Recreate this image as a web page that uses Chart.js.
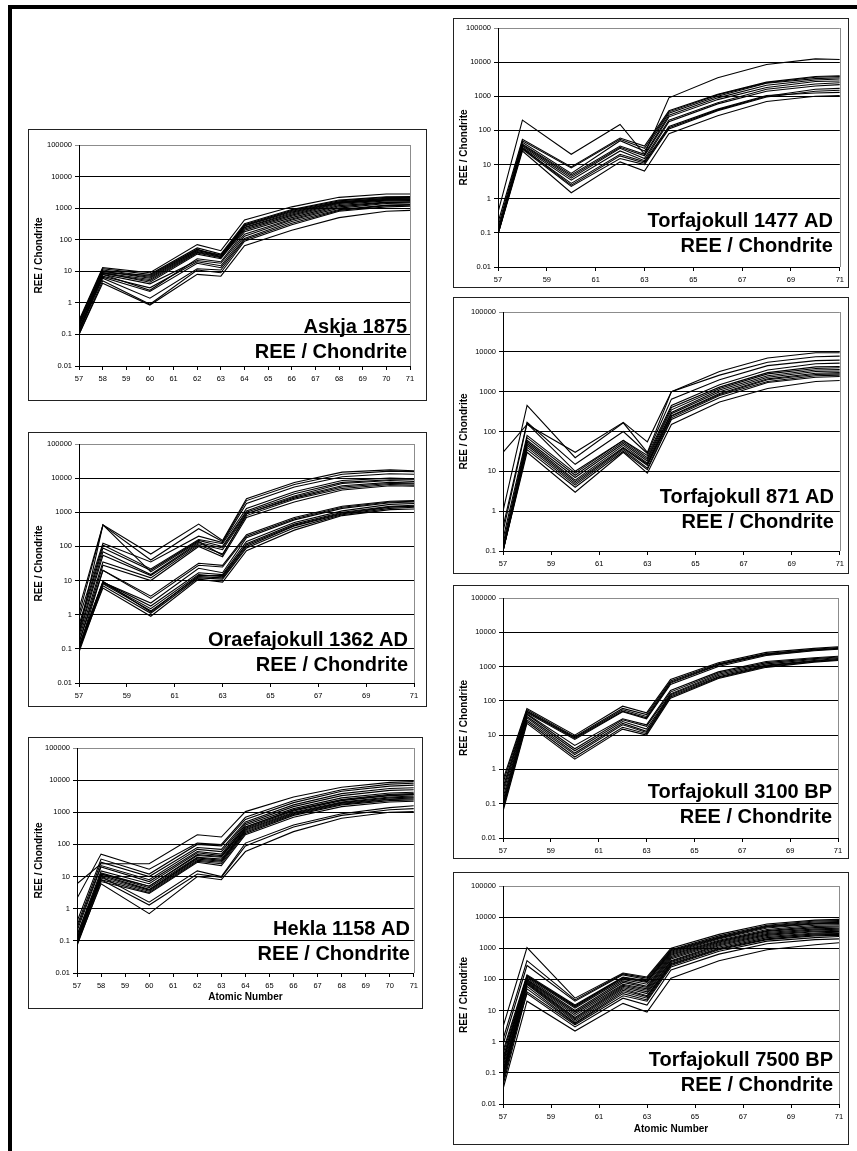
<!DOCTYPE html>
<html>
<head>
<meta charset="utf-8">
<script src="https://cdn.jsdelivr.net/npm/chart.js@4"></script>
<style>
  html, body { margin: 0; padding: 0; background: #fff; overflow: hidden; }
  body { width: 857px; height: 1151px; position: relative; }
  .frame { position: absolute; left: 8px; top: 5px; width: 870px; height: 1170px; border: 4px solid #000; box-sizing: border-box; }
  .box { position: absolute; border: 1px solid #222; box-sizing: border-box; background: #fff; }
  canvas { position: absolute; }
</style>
</head>
<body>
<div class="frame"></div>

<script>
// REE elements sampled (atomic number): La Ce Nd Sm Eu Gd Dy Er Yb Lu
const atomicNumbers = [57, 58, 60, 62, 63, 64, 66, 68, 70, 71];
const decades = [0.01, 0.1, 1, 10, 100, 1000, 10000, 100000];

const askjaSeries = [
  [0.1, 4.2, 0.85, 8, 7, 65, 200, 500, 800, 850],
  [0.1, 5, 0.9, 11, 9, 90, 300, 800, 1100, 1150],
  [0.12, 6, 1.4, 12, 11, 100, 330, 850, 1200, 1250],
  [0.15, 6.5, 2.3, 18, 13, 110, 380, 900, 1250, 1300],
  [0.15, 7, 3, 20, 15, 130, 420, 1000, 1400, 1450],
  [0.2, 8, 4, 22, 18, 150, 450, 1100, 1500, 1550],
  [0.12, 8, 2.5, 25, 20, 180, 500, 1200, 1550, 1600],
  [0.12, 9, 4.5, 35, 25, 200, 550, 1300, 1700, 1750],
  [0.15, 8.5, 5, 38, 27, 220, 600, 1400, 1800, 1850],
  [0.2, 9, 5.5, 40, 28, 240, 650, 1450, 1850, 1900],
  [0.18, 10, 6, 42, 30, 250, 700, 1500, 1900, 1950],
  [0.22, 10, 6.5, 45, 32, 270, 750, 1550, 2000, 2050],
  [0.25, 11, 7, 48, 33, 280, 800, 1600, 2050, 2100],
  [0.2, 9, 7.5, 50, 28, 300, 850, 1700, 2200, 2200],
  [0.25, 12, 8, 55, 35, 320, 900, 1800, 2300, 2350],
  [0.28, 13, 9, 70, 45, 420, 1100, 2200, 2800, 2800]
];

const oraefajokullSeries = [
  [1.5, 430, 60, 450, 150, 2500, 7500, 15000, 17500, 16500],
  [1.0, 420, 40, 330, 140, 2200, 6500, 13000, 16000, 15500],
  [0.8, 125, 35, 200, 130, 1800, 5500, 11000, 13500, 13000],
  [0.5, 110, 22, 160, 120, 1300, 4000, 8500, 10000, 9500],
  [0.4, 90, 20, 150, 100, 1100, 3500, 7500, 9000, 9000],
  [0.3, 70, 15, 130, 90, 1000, 3000, 7000, 8500, 8000],
  [0.25, 55, 14, 120, 80, 900, 2800, 6000, 7500, 7200],
  [0.3, 430, 18, 140, 55, 900, 2600, 5500, 7000, 6800],
  [0.2, 35, 12, 110, 60, 800, 2400, 5000, 6500, 6200],
  [0.15, 28, 10, 100, 50, 700, 2000, 4500, 6000, 5800],
  [0.1, 20, 3.5, 32, 28, 220, 700, 1500, 2100, 2200],
  [0.15, 20, 3, 28, 25, 200, 650, 1400, 2000, 2100],
  [0.12, 9, 2.2, 23, 17, 180, 600, 1300, 1900, 2000],
  [0.1, 9, 1.8, 17, 15, 140, 500, 1100, 1700, 1800],
  [0.09, 8.5, 1.5, 15, 13, 120, 450, 1000, 1500, 1600],
  [0.12, 9.5, 1.2, 14, 14, 110, 420, 950, 1450, 1500],
  [0.1, 8, 1.3, 13, 12, 100, 400, 900, 1400, 1500],
  [0.08, 7, 1.1, 12, 11, 90, 350, 850, 1300, 1400],
  [0.1, 6, 0.9, 11, 9, 75, 300, 800, 1200, 1250]
];

const heklaSeries = [
  [6, 25, 25, 200, 170, 1050, 3000, 6000, 8500, 9000],
  [2.1, 50, 17, 110, 100, 700, 2300, 5000, 7500, 8000],
  [0.4, 35, 12, 100, 90, 600, 2000, 4500, 6500, 7000],
  [0.3, 28, 10, 80, 70, 500, 1700, 3800, 5500, 5800],
  [0.25, 22, 8, 70, 60, 450, 1500, 3300, 4800, 5000],
  [0.2, 20, 7, 60, 50, 400, 1300, 2800, 4000, 4200],
  [0.15, 15, 6, 55, 45, 350, 1200, 2500, 3600, 3800],
  [0.15, 12, 5, 48, 42, 350, 1150, 2400, 3400, 3600],
  [0.12, 13, 5, 45, 40, 320, 1100, 2300, 3300, 3500],
  [0.1, 12, 4.5, 40, 35, 300, 1000, 2100, 3000, 3200],
  [0.1, 11, 4, 38, 32, 280, 950, 2000, 2800, 3000],
  [0.09, 10, 3.8, 35, 30, 260, 900, 1900, 2600, 2800],
  [0.08, 9, 3.5, 32, 28, 240, 850, 1800, 2500, 2600],
  [0.1, 8, 3.2, 30, 25, 220, 800, 1700, 2300, 2400],
  [0.07, 7, 3, 28, 22, 200, 700, 1500, 2100, 2200],
  [0.12, 10, 1.6, 15, 10, 110, 400, 900, 1400, 1600],
  [0.1, 8, 1.3, 12, 9.5, 90, 350, 800, 1200, 1300],
  [0.08, 6, 0.7, 10, 8, 60, 250, 650, 1000, 1050]
];

const torfa1477Series = [
  [0.4, 200, 20, 150, 20, 900, 3500, 8500, 12500, 12000],
  [0.2, 55, 8.5, 60, 35, 380, 1150, 2600, 3800, 4000],
  [0.15, 50, 8, 55, 30, 350, 1100, 2500, 3600, 3800],
  [0.12, 45, 5.5, 50, 25, 320, 1000, 2400, 3300, 3500],
  [0.1, 40, 5, 35, 20, 280, 900, 2100, 3000, 3200],
  [0.1, 38, 4.5, 32, 18, 250, 800, 1800, 2700, 2800],
  [0.09, 35, 4, 30, 15, 200, 650, 1600, 2300, 2500],
  [0.1, 32, 3.5, 25, 13, 180, 600, 1400, 2000, 2200],
  [0.12, 30, 2.8, 20, 12, 130, 420, 1050, 1250, 1300],
  [0.09, 30, 2.5, 18, 11, 120, 400, 1000, 1600, 1700],
  [0.1, 28, 2.3, 15, 10, 110, 380, 950, 1400, 1500],
  [0.09, 25, 1.5, 12, 6.5, 80, 270, 700, 1000, 1050]
];

const torfa871Series = [
  [30, 150, 30, 170, 55, 1000, 3200, 7000, 9500, 9500],
  [1, 450, 22, 165, 30, 1000, 2600, 5500, 7500, 7800],
  [0.4, 170, 15, 100, 28, 650, 2000, 4500, 6000, 6200],
  [0.3, 160, 10, 60, 25, 450, 1500, 3500, 5000, 5200],
  [0.2, 80, 9, 60, 22, 400, 1300, 3000, 4200, 4300],
  [0.15, 70, 8, 55, 20, 350, 1200, 2800, 3800, 4000],
  [0.12, 60, 7, 50, 18, 300, 1100, 2500, 3500, 3600],
  [0.1, 55, 6, 45, 16, 280, 1000, 2300, 3200, 3300],
  [0.12, 50, 5.5, 40, 15, 250, 900, 2100, 2900, 3000],
  [0.1, 45, 5, 38, 14, 240, 850, 2000, 2700, 2800],
  [0.1, 40, 4.5, 35, 12, 220, 800, 1800, 2500, 2600],
  [0.1, 35, 4, 32, 11, 200, 700, 1700, 2300, 2400],
  [0.1, 30, 3, 30, 9, 150, 550, 1200, 1800, 1900]
];

const torfa3100Series = [
  [0.5, 60, 10, 70, 45, 420, 1300, 2600, 3400, 3800],
  [0.4, 55, 9, 60, 40, 380, 1200, 2400, 3200, 3600],
  [0.3, 50, 8.5, 55, 35, 350, 1150, 2300, 3100, 3400],
  [0.25, 48, 8, 50, 32, 330, 1100, 2200, 3000, 3300],
  [0.2, 45, 7.5, 48, 30, 300, 1000, 2100, 2900, 3200],
  [0.15, 42, 5, 30, 20, 200, 700, 1400, 1800, 2000],
  [0.12, 40, 4, 28, 18, 180, 650, 1300, 1700, 1900],
  [0.1, 35, 3.5, 25, 15, 160, 600, 1200, 1600, 1800],
  [0.09, 32, 3, 22, 13, 150, 550, 1100, 1500, 1700],
  [0.08, 28, 2.7, 20, 12, 140, 500, 1050, 1450, 1600],
  [0.07, 25, 2.3, 17, 11, 130, 470, 1000, 1400, 1550],
  [0.06, 22, 2, 15, 10, 120, 450, 950, 1350, 1500]
];

const torfa7500Series = [
  [3, 1050, 25, 160, 120, 1000, 2800, 6000, 8000, 8500],
  [1.2, 400, 22, 150, 110, 900, 2500, 5500, 7500, 7800],
  [0.8, 280, 20, 140, 100, 850, 2300, 5200, 7000, 7200],
  [0.5, 140, 15, 120, 90, 800, 2200, 5000, 6500, 6800],
  [0.2, 130, 14, 115, 85, 750, 2100, 4800, 6200, 6500],
  [0.4, 130, 13, 110, 80, 700, 2000, 4500, 6000, 6200],
  [0.3, 120, 12, 100, 70, 650, 1800, 4000, 5500, 5700],
  [0.25, 110, 10, 90, 60, 600, 1700, 3700, 5000, 5200],
  [0.2, 100, 9, 80, 55, 550, 1600, 3500, 4600, 4800],
  [0.15, 95, 8, 70, 50, 500, 1500, 3200, 4200, 4400],
  [0.12, 90, 7, 65, 45, 450, 1400, 3000, 3900, 4100],
  [0.1, 85, 6, 60, 40, 400, 1300, 2800, 3600, 3800],
  [0.1, 80, 5.5, 55, 35, 380, 1200, 2600, 3400, 3500],
  [0.08, 75, 5, 50, 30, 350, 1100, 2400, 3100, 3300],
  [0.07, 70, 4.5, 45, 28, 320, 1000, 2200, 2900, 3000],
  [0.06, 60, 4, 40, 25, 300, 950, 2000, 2700, 2800],
  [0.05, 50, 3.8, 35, 22, 280, 900, 1900, 2500, 2600],
  [0.04, 40, 3.5, 30, 20, 250, 800, 1700, 2200, 2400],
  [0.1, 35, 3, 25, 15, 200, 650, 1400, 1900, 2000],
  [0.03, 20, 2.2, 17, 9, 110, 400, 900, 1300, 1500]
];

// box = outer chart border, plot = plot area (left, top, right, bottom) in page px
const panels = [
  { title: 'Askja 1875', series: askjaSeries, yMin: 0.01, xStep: 1, xTitle: false,
    box: [28, 129, 427, 401], plot: [79, 145, 410, 366], textRight: 3, textGap: 8 },
  { title: 'Oraefajokull 1362 AD', series: oraefajokullSeries, yMin: 0.01, xStep: 2, xTitle: false,
    box: [28, 432, 427, 707], plot: [79, 444, 414, 683], textRight: 6, textGap: 12 },
  { title: 'Hekla 1158 AD', series: heklaSeries, yMin: 0.01, xStep: 1, xTitle: true, xTitlePad: 5,
    box: [28, 737, 423, 1009], plot: [77, 748, 416, 973], textRight: 4, textGap: 13 },
  { title: 'Torfajokull 1477 AD', series: torfa1477Series, yMin: 0.01, xStep: 2, xTitle: false,
    box: [453, 18, 849, 288], plot: [498, 28, 840, 267], textRight: 7, textGap: 15 },
  { title: 'Torfajokull 871 AD', series: torfa871Series, yMin: 0.1, xStep: 2, xTitle: false,
    box: [453, 297, 849, 574], plot: [503, 312, 840, 551], textRight: 6, textGap: 23 },
  { title: 'Torfajokull 3100 BP', series: torfa3100Series, yMin: 0.01, xStep: 2, xTitle: false,
    box: [453, 585, 849, 859], plot: [503, 598, 838, 838], textRight: 6, textGap: 15 },
  { title: 'Torfajokull 7500 BP', series: torfa7500Series, yMin: 0.01, xStep: 2, xTitle: true, xTitlePad: 9,
    box: [453, 872, 849, 1145], plot: [503, 886, 839, 1104], textRight: 6, textGap: 13 }
];

const FONT = '"Liberation Sans", Arial, Helvetica, sans-serif';

// big two-line caption in the lower right of the plot + gray plot-area right edge
const captionPlugin = {
  id: 'caption',
  beforeDatasetsDraw(chart) {
    const { ctx, chartArea } = chart;
    ctx.save();
    ctx.strokeStyle = '#8c8c8c';
    ctx.lineWidth = 1;
    ctx.beginPath();
    ctx.moveTo(Math.round(chartArea.right) + 0.5, chartArea.top);
    ctx.lineTo(Math.round(chartArea.right) + 0.5, chartArea.bottom);
    ctx.stroke();
    ctx.restore();
  },
  afterDatasetsDraw(chart, args, opts) {
    const { ctx, chartArea } = chart;
    ctx.save();
    ctx.fillStyle = '#000';
    ctx.font = 'bold 20px ' + FONT;
    ctx.textAlign = 'right';
    ctx.textBaseline = 'alphabetic';
    const x = chartArea.right - opts.right;
    const y2 = chartArea.bottom - opts.gap;
    ctx.fillText(opts.title, x, y2 - 25);
    ctx.fillText('REE / Chondrite', x, y2);
    ctx.restore();
  }
};

panels.forEach((p, idx) => {
  const [bl, bt, br, bb] = p.box;
  const [pl, pt, pr, pb] = p.plot;

  const box = document.createElement('div');
  box.className = 'box';
  box.style.left = bl + 'px';
  box.style.top = bt + 'px';
  box.style.width = (br - bl) + 'px';
  box.style.height = (bb - bt) + 'px';
  document.body.appendChild(box);

  const canvas = document.createElement('canvas');
  canvas.id = 'chart-' + idx;
  canvas.width = br - bl - 2;
  canvas.height = bb - bt - 2;
  canvas.style.left = (bl + 1) + 'px';
  canvas.style.top = (bt + 1) + 'px';
  canvas.style.width = canvas.width + 'px';
  canvas.style.height = canvas.height + 'px';
  document.body.appendChild(canvas);

  const yAxisWidth = pl - (bl + 1);
  const xAxisHeight = (bb - 1) - pb;

  new Chart(canvas.getContext('2d'), {
    type: 'line',
    data: {
      datasets: p.series.map(vals => ({
        data: vals.map((v, i) => ({ x: atomicNumbers[i], y: v })),
        borderColor: '#000',
        borderWidth: 1.1,
        pointRadius: 0,
        tension: 0,
        fill: false
      }))
    },
    options: {
      responsive: false,
      maintainAspectRatio: false,
      animation: false,
      devicePixelRatio: 1,
      layout: { padding: { top: pt - (bt + 1), right: (br - 1) - pr, left: 0, bottom: 0 } },
      plugins: {
        legend: { display: false },
        tooltip: { enabled: false },
        caption: { title: p.title, right: p.textRight, gap: p.textGap }
      },
      scales: {
        x: {
          type: 'linear',
          min: 57,
          max: 71,
          ticks: {
            stepSize: p.xStep,
            autoSkip: false,
            maxRotation: 0,
            padding: 4,
            color: '#000',
            font: { family: FONT, size: 7.5 }
          },
          grid: { drawOnChartArea: false, drawTicks: true, tickLength: 4, color: '#000' },
          border: { color: '#000' },
          title: {
            display: p.xTitle,
            text: 'Atomic Number',
            color: '#000',
            font: { family: FONT, size: 10, weight: 'bold' },
            padding: { top: 0, bottom: p.xTitlePad || 4 }
          },
          afterFit(scale) { scale.height = xAxisHeight; }
        },
        y: {
          type: 'logarithmic',
          min: p.yMin,
          max: 100000,
          afterBuildTicks(scale) {
            scale.ticks = decades.filter(v => v >= p.yMin).map(v => ({ value: v }));
          },
          ticks: {
            callback: v => String(v),
            padding: 3,
            color: '#000',
            font: { family: FONT, size: 7.5 }
          },
          grid: {
            tickLength: 4,
            color: c => (c.tick && c.tick.value === 100000 ? '#8c8c8c' : '#000')
          },
          border: { color: '#000' },
          title: {
            display: true,
            text: 'REE / Chondrite',
            color: '#000',
            font: { family: FONT, size: 10, weight: 'bold' },
            padding: { top: 4, bottom: 0 }
          },
          afterFit(scale) { scale.width = yAxisWidth; }
        }
      }
    },
    plugins: [captionPlugin]
  });
});
</script>
</body>
</html>
